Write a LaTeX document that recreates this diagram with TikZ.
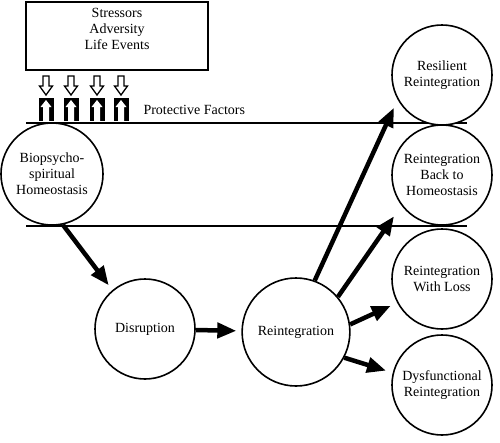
\documentclass[tikz,border=0pt]{standalone}
\usepackage{fontspec}
\setmainfont{Liberation Serif}
\usetikzlibrary{arrows.meta,shapes.geometric}

\begin{document}
\begin{tikzpicture}[x=1pt,y=-1pt,>={Triangle[length=19pt,width=15pt]},
 font=\fontsize{14}{16}\selectfont,
 stage/.style={circle,draw,line width=1.6pt,fill=white,minimum size=100pt,inner sep=0pt,align=center},
 flow/.style={->,line width=4.5pt,shorten >=#1},
 flow/.default=0pt]
\useasboundingbox (0,0) rectangle (500,442);
% horizontal bands
\draw[line width=1.6pt] (26,123) -- (467,123);
\draw[line width=1.6pt] (26,226) -- (467,226);
% stressor box
\node[draw,line width=1.8pt,minimum width=182pt,minimum height=68pt,align=center,text depth=15pt] (stress) at (117,36) {Stressors\\Adversity\\Life Events};
\foreach \x in {46,71,97,121} {
  \draw[line width=1.3pt,fill=white] (\x-3,76) -- (\x+3,76) -- (\x+3,86) -- (\x+6.5,86) -- (\x,95) -- (\x-6.5,86) -- (\x-3,86) -- cycle;
  \fill (\x-7.5,98) rectangle (\x+7.5,121);
  \fill[white] (\x-3,121) -- (\x-3,107) -- (\x-5.5,107) -- (\x,100) -- (\x+5.5,107) -- (\x+3,107) -- (\x+3,121) -- cycle;
}
\node[anchor=west] (protect) at (140,110) {Protective Factors};
% stages
\node[stage,minimum size=102pt] (home) at (52,174) {Biopsycho-\\spiritual\\Homeostasis};
\node[stage] (disr) at (145,329) {Disruption};
\node[stage,ellipse,minimum width=101pt,minimum height=108pt] (reint) at (296,332) {Reintegration};
\node[stage] (res) at (442,75) {Resilient\\Reintegration};
\node[stage] (back) at (442,175) {Reintegration\\Back to\\Homeostasis};
\node[stage] (loss) at (442,279) {Reintegration\\With Loss};
\node[stage] (dysf) at (442,385) {Dysfunctional\\Reintegration};
% arrows
\draw[flow=6pt] (home.-78) -- (disr.130);
\draw[flow=5pt] (disr) -- (reint);
\draw[flow=9pt] (reint.70) -- (res.209);
\draw[flow=13pt] (reint.40) -- (back.217);
\draw[flow=7pt] (reint.8) -- (loss.208);
\draw[flow=7pt] (reint.-28) -- (dysf.166);
\end{tikzpicture}
\end{document}
